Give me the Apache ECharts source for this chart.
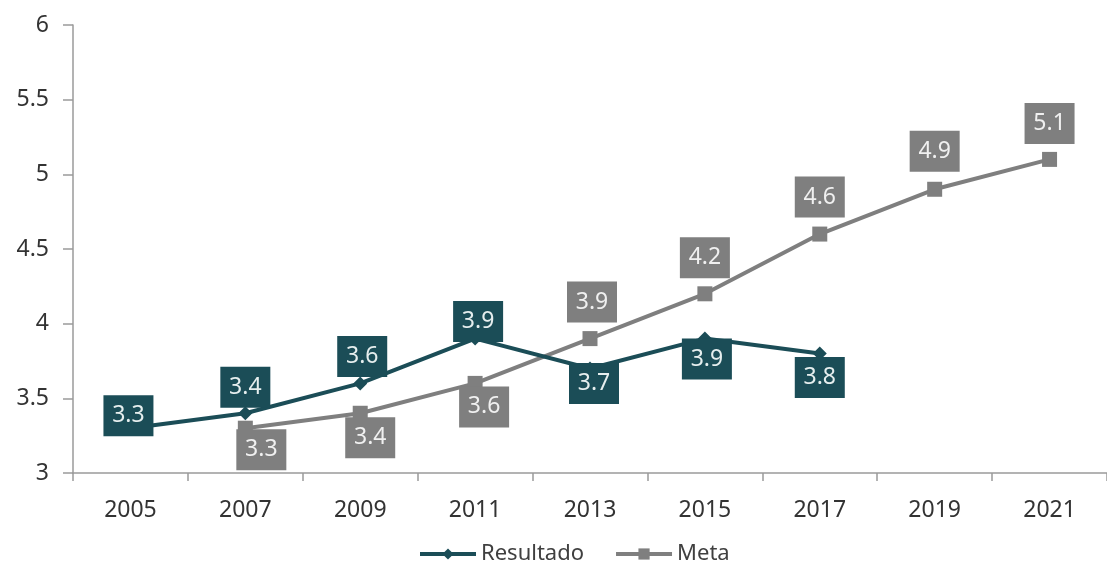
<!DOCTYPE html>
<html><head><meta charset="utf-8">
<script src="https://cdn.jsdelivr.net/npm/echarts@6/dist/echarts.min.js"></script>
<style>html,body{margin:0;padding:0;background:#fff}#c{width:1107px;height:562px}</style>
</head><body><div id="c"></div>
<script>
var years = ['2005','2007','2009','2011','2013','2015','2017','2019','2021'];
var resultado = [3.3, 3.4, 3.6, 3.9, 3.7, 3.9, 3.8, null, null];
var meta = [null, 3.3, 3.4, 3.6, 3.9, 4.2, 4.6, 4.9, 5.1];
var resultadoLabelPos = ['top','top','top','top','bottom','bottom','bottom'];
var resultadoLabelDist = [-15, -1.5, -0.5, -10.5, -12.5, -7, -3.5];
var resultadoLabelDx = [-2, 0, 2, 3, 4, 2, 0];
var metaLabelPos = [null,'bottom','bottom','bottom','top','top','top','top','top'];
var metaLabelDist = [0, -6.5, -3.5, -4.5, 8.5, 8, 9, 10, 8];
var metaLabelDx = [0, 16, 10, 9, 2, 0, 0, 0, 0];

var TEAL = '#1b4d57', GRAY = '#7f7f7f';
var FONT = 'Noto Sans';

function labelBase(color, txt){
  return {show:true, color:txt, backgroundColor:color, fontSize:23, fontFamily:FONT,
    padding:[8,8,8,8], width:34, height:25, lineHeight:25, align:'center',
    formatter:function(p){return p.value.toFixed(1);}};
}
var rData = resultado.map(function(v,i){
  if(v==null) return null;
  return {value:v, label:{position:resultadoLabelPos[i], distance:resultadoLabelDist[i], offset:[resultadoLabelDx[i],0]}};
});
var mData = meta.map(function(v,i){
  if(v==null) return null;
  return {value:v, label:{position:metaLabelPos[i], distance:metaLabelDist[i], offset:[metaLabelDx[i],0]}};
});

var chart = echarts.init(document.getElementById('c'));
chart.setOption({
  animation:false,
  grid:{left:73, top:25, bottom:89, right:-9, containLabel:false},
  legend:{top:538, left:413, itemWidth:56, itemHeight:14, itemGap:30,
    lineStyle:{width:4},
    textStyle:{fontSize:22, color:'#404040', fontFamily:FONT},
    data:['Resultado','Meta']},
  xAxis:{type:'category', data:years, boundaryGap:true,
    axisLine:{lineStyle:{color:'#9a9a9a', width:1.5}},
    axisTick:{show:true, length:8, lineStyle:{color:'#9a9a9a', width:1.5}},
    axisLabel:{fontSize:23, color:'#333', fontFamily:FONT, margin:26}},
  yAxis:{type:'value', min:3, max:6, interval:0.5,
    splitLine:{show:false},
    axisLine:{show:true, lineStyle:{color:'#9a9a9a', width:1.5}},
    axisTick:{show:true, length:10, lineStyle:{color:'#9a9a9a', width:1.5}},
    axisLabel:{fontSize:23, color:'#333', fontFamily:FONT, margin:24}},
  series:[
    {name:'Resultado', type:'line', data:rData, z:3,
      lineStyle:{color:TEAL, width:4}, itemStyle:{color:TEAL},
      symbol:'diamond', symbolSize:14, connectNulls:false,
      label:labelBase(TEAL,'#e6eeee')},
    {name:'Meta', type:'line', data:mData, z:2,
      lineStyle:{color:GRAY, width:4}, itemStyle:{color:GRAY},
      symbol:'rect', symbolSize:15,
      label:labelBase(GRAY,'#f0f0f0')}
  ]
});
</script></body></html>
